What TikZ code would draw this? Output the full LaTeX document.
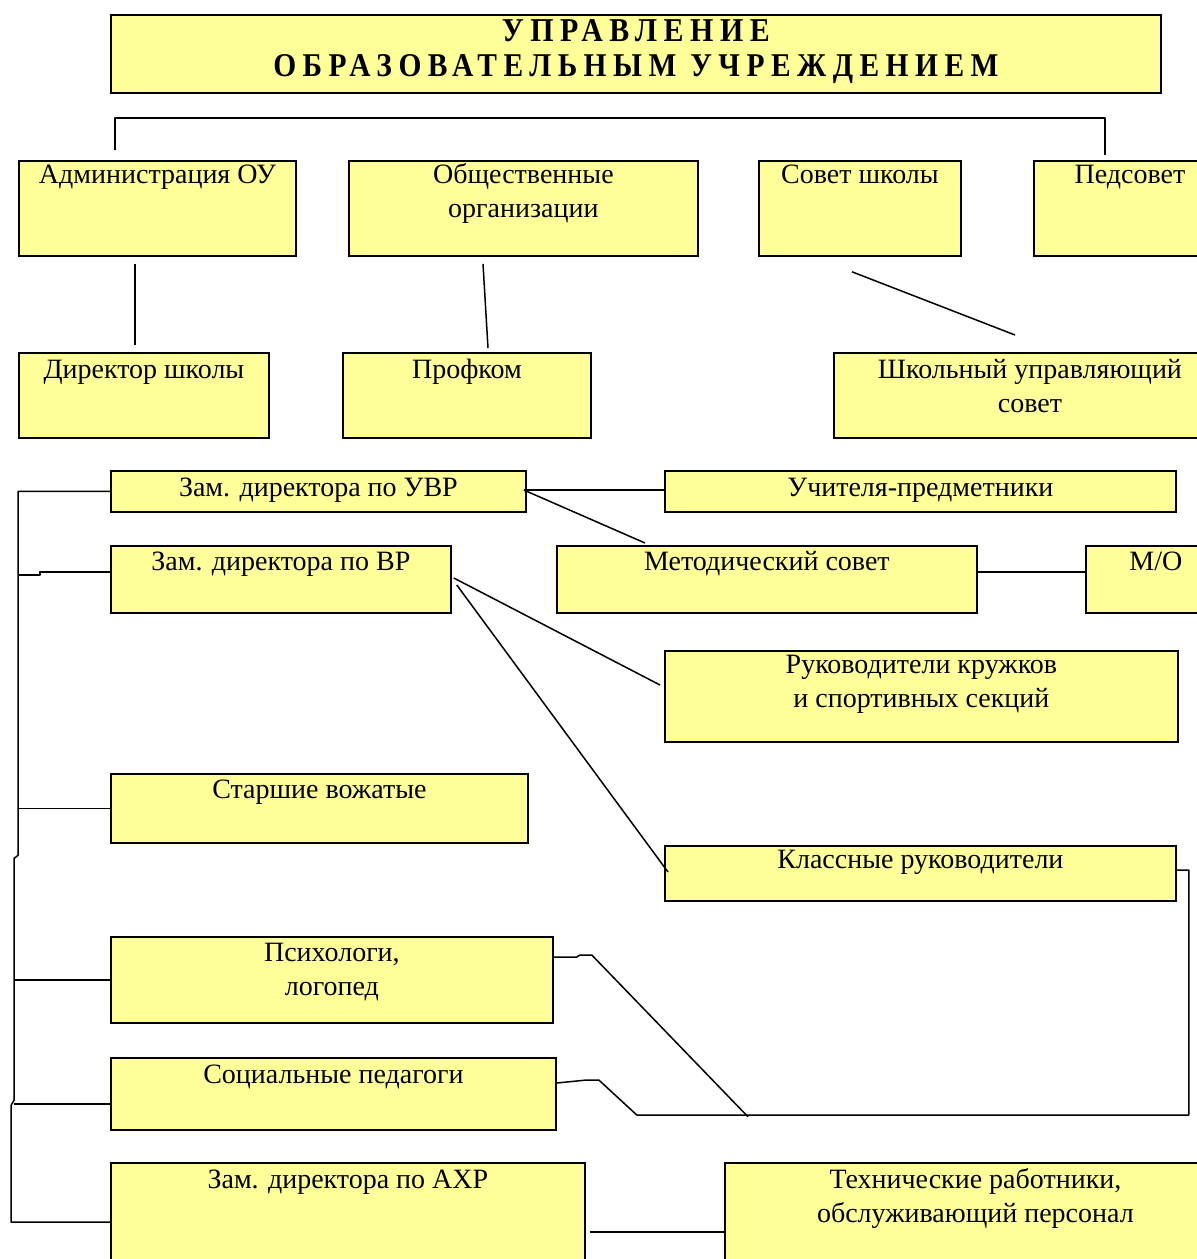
\documentclass[tikz,border=0pt]{standalone}
\usepackage{fontspec}
\setmainfont{Liberation Serif}
\usetikzlibrary{calc}
\definecolor{boxyellow}{RGB}{255,255,153}
\tikzset{
  box/.style={draw=black, line width=1.8pt, fill=boxyellow, inner sep=0pt, anchor=north west},
  lbl/.style={anchor=north, inner sep=0pt, align=center, font=\fontsize{28}{34}\selectfont},
  conn/.style={draw=black, line width=1.5pt, line join=round},
}
\newcommand{\orgbox}[7][0]{%
  \node[box, minimum width={#5-#3}, minimum height={#6-#4},
        label={[lbl, yshift=#1pt]north:{\rule{0pt}{26pt}#7}}] (#2) at (#3,-#4) {};}
\begin{document}
\begin{tikzpicture}[x=1pt,y=1pt]
\useasboundingbox (0,0) rectangle (1197,-1259);
\clip (0,0) rectangle (1197,-1259);
\fill[white] (0,0) rectangle (1197,-1259);
% title
\node[box, minimum width=1050, minimum height=78,
      label={[anchor=north, inner sep=0pt, align=center, yshift=-5pt]north:{%
        \resizebox{268pt}{22pt}{\bfseries\addfontfeature{LetterSpace=22}УПРАВЛЕНИЕ}\\[12pt]
        \resizebox{725pt}{22pt}{\bfseries\addfontfeature{LetterSpace=22}ОБРАЗОВАТЕЛЬНЫМ УЧРЕЖДЕНИЕМ}}}] (title) at (110,-14) {};
% boxes
\orgbox[3]{adm}{18}{160}{295}{255}{Администрация ОУ}
\orgbox[3]{obsh}{348}{160}{697}{255}{Общественные\\организации}
\orgbox[3]{sovet}{758}{160}{960}{255}{Совет школы}
\orgbox[3]{ped}{1033}{160}{1225}{255}{Педсовет}
\orgbox{dir}{18}{352}{268}{437}{Директор школы}
\orgbox{prof}{342}{352}{590}{437}{Профком}
\orgbox{shus}{833}{352}{1225}{437}{Школьный управляющий\\совет}
\orgbox{uvr}{110}{470}{525}{511}{Зам. директора по УВР}
\orgbox{uchit}{664}{470}{1175}{511}{Учителя-предметники}
\orgbox[1]{vr}{110}{545}{450}{612}{Зам. директора по ВР}
\orgbox[1]{metod}{556}{545}{976}{612}{Методический совет}
\orgbox[1]{mo}{1085}{545}{1225}{612}{М/О}
\orgbox[3]{ruk}{664}{650}{1177}{741}{Руководители кружков\\и спортивных секций}
\orgbox[1]{vozh}{110}{773}{527}{842}{Старшие вожатые}
\orgbox[3]{klass}{664}{845}{1175}{900}{Классные руководители}
\orgbox[1]{psych}{110}{936}{552}{1022}{Психологи,\\логопед}
\orgbox{soc}{110}{1057}{555}{1129}{Социальные педагоги}
\orgbox{axr}{110}{1162}{584}{1275}{Зам. директора по АХР}
\orgbox{tech}{724}{1162}{1225}{1275}{Технические работники,\\обслуживающий персонал}
% connectors
\draw[conn] ($(adm.north west)+(97,10)$) |- ($(ped.north west)+(72,42)$) -- ($(ped.north west)+(72,5)$);
\draw[conn] ($(adm.south west)+(117,-7)$) -- ($(dir.north west)+(117,7)$);
\draw[conn] ($(obsh.south west)+(135,-7)$) -- ($(prof.north west)+(146,4)$);
\draw[conn] ($(sovet.south west)+(94,-15)$) -- ($(shus.north west)+(182,17)$);
\coordinate (uvrp) at ($(uvr.north east)+(-3,-20)$);
\draw[conn] (uvrp) -- (uchit.west |- uvrp);
\draw[conn] (uvrp) -- ($(metod.north west)+(89,2)$);
\coordinate (metp) at ($(metod.north east)+(0,-27)$);
\draw[conn] (metp) -- (mo.west |- metp);
\draw[conn] ($(vr.north east)+(2,-33)$) -- ($(ruk.north west)+(-4,-35)$);
\draw[conn] ($(vr.north east)+(5,-40)$) -- ($(klass.north west)+(4,-27)$);
% left bus
\coordinate (axrp) at ($(axr.north west)+(0,-60)$);
\draw[conn] (uvr.west) -- ++(-92,0) -- ++(0,-364) -- ++(-4,-3) -- ++(0,-242) -- ++(-3,-5) |- (axrp);
\draw[conn] ($(vr.north west)+(0,-27)$) -- ++(-70,0) -- ++(0,-3) -- ++(-22,0);
\draw[conn] (vozh.west) -- ++(-92,0);
\draw[conn] (psych.west) -- ++(-96,0);
\draw[conn] ($(soc.north west)+(0,-47)$) -- ++(-96,0);
% right loop
\coordinate (jn) at ($(klass.south west)+(84,-215)$);
\draw[conn] ($(klass.north east)+(0,-25)$) -- ++(12,0) -- ++(0,-245) -- ++(-552,0) -- ++(-38,35) -- ++(-12,0) -- ($(soc.north east)+(0,-26)$);
\draw[conn] ($(psych.north east)+(0,-21)$) -- ++(23,0) -- ++(3,2) -- ++(12,0) -- (jn);
\coordinate (axre) at ($(axr.north east)+(4,-70)$);
\draw[conn] (axre) -- (tech.west |- axre);
\end{tikzpicture}
\end{document}
